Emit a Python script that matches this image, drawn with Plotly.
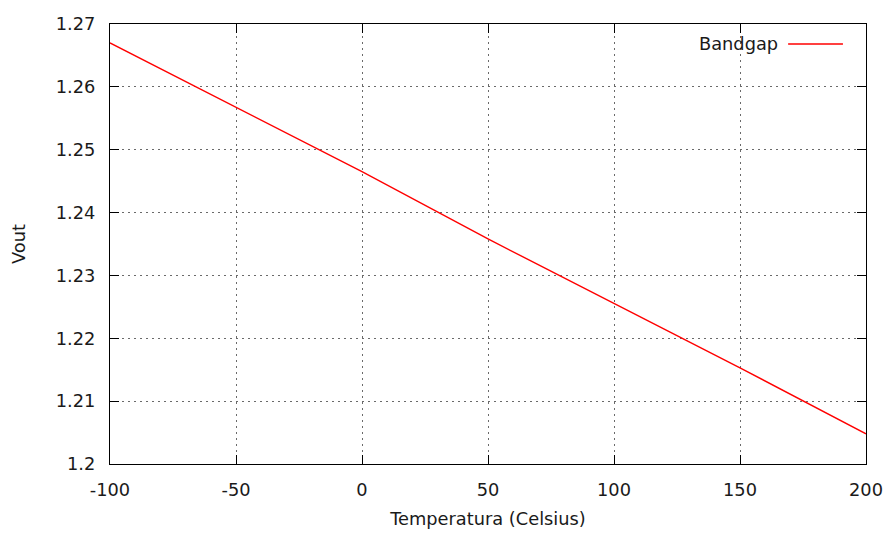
import plotly.graph_objects as go

# Bandgap reference output voltage versus temperature
temperatura = [-100, -50, 0, 50, 100, 150, 200]
vout = [1.2670, 1.2568, 1.2465, 1.2358, 1.2255, 1.2153, 1.2048]

x_ticks = [-100, -50, 0, 50, 100, 150, 200]
x_tick_labels = ["-100", "-50", "0", "50", "100", "150", "200"]
y_ticks = [1.2, 1.21, 1.22, 1.23, 1.24, 1.25, 1.26, 1.27]
y_tick_labels = ["1.2", "1.21", "1.22", "1.23", "1.24", "1.25", "1.26", "1.27"]

FONT = "DejaVu Sans"
FSIZE = 17.8

fig = go.Figure()
fig.add_trace(go.Scatter(
    x=temperatura, y=vout, mode="lines", name="Bandgap",
    line=dict(color="#ff0000", width=1.4),
    showlegend=False,
))

axis_common = dict(
    showline=True, linecolor="#000000", linewidth=1.3, mirror="ticks",
    ticks="inside", ticklen=9, tickwidth=1.3, tickcolor="#000000",
    showgrid=True, gridcolor="#6a6a6a", gridwidth=1, griddash="1.5px,4.5px",
    zeroline=False, automargin=False,
    tickfont=dict(family=FONT, size=FSIZE, color="#1a1a1a"),
)

fig.update_xaxes(
    range=[-100, 200], tickvals=x_ticks, ticktext=x_tick_labels,
    title=dict(text="Temperatura (Celsius)", font=dict(family=FONT, size=FSIZE, color="#1a1a1a"), standoff=14),
    ticklabelstandoff=9,
    **axis_common,
)
fig.update_yaxes(
    range=[1.2, 1.27], tickvals=y_ticks, ticktext=y_tick_labels,
    title=dict(text="Vout", font=dict(family=FONT, size=FSIZE, color="#1a1a1a"), standoff=25),
    ticklabelstandoff=10,
    **axis_common,
)

# gnuplot-style key: label followed by the line sample
fig.add_annotation(
    x=0.886, y=0.955, xref="paper", yref="paper", xanchor="right", yanchor="middle",
    text="Bandgap", showarrow=False, font=dict(family=FONT, size=FSIZE, color="#1a1a1a"),
)
fig.add_shape(
    type="line", xref="paper", yref="paper",
    x0=0.897, x1=0.9695, y0=0.9545, y1=0.9545,
    line=dict(color="#ff0000", width=1.4),
)

fig.update_layout(
    width=886, height=534,
    margin=dict(l=110, r=20, t=24, b=70),
    paper_bgcolor="#ffffff", plot_bgcolor="#ffffff",
    font=dict(family=FONT, size=FSIZE, color="#1a1a1a"),
)

fig.write_html("out.html")
